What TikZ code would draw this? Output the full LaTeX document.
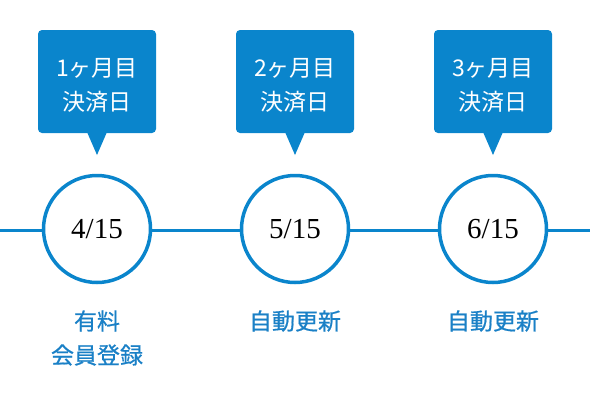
\documentclass[tikz,border=0pt]{standalone}
\usepackage{fontspec}
\setmainfont{Liberation Serif}
\newfontfamily\jp{Noto Sans CJK JP}
\newfontfamily\jpm[FakeBold=0.7]{Noto Sans CJK JP}
\definecolor{mainblue}{HTML}{0A85CC}
\definecolor{txtblue}{HTML}{1A80C6}
\begin{document}
\begin{tikzpicture}[x=1pt,y=-1pt,
  datecircle/.style={circle,draw=mainblue,line width=3.5pt,fill=white,minimum size=107pt,inner sep=0pt,font=\fontsize{29}{29}\selectfont},
  callout/.style={fill=mainblue,rounded corners=4pt},
  callouttext/.style={text=white,align=center,font=\jp\fontsize{23}{34}\selectfont},
  label/.style={text=txtblue,align=center,font=\jpm\fontsize{23}{34}\selectfont},
  conn/.style={draw=mainblue,line width=3pt}]
\useasboundingbox (0,0) rectangle (590,400);
\coordinate (L) at (0,230);
\coordinate (R) at (590,230);
\draw[conn] (L) -- (R);
\foreach \i/\x/\d/\n in {1/97/4/1,2/295/5/2,3/493/6/3}{
  \fill[callout] (\x-59,30) rectangle (\x+59,133);
  \fill[mainblue] (\x-10,132) -- (\x,155) -- (\x+10,132) -- cycle;
  \node[callouttext] (c\i) at (\x,85) {\n ヶ月目\\決済日};
  \node[datecircle] (d\i) at (\x,229) {\d/15};
}
\node[label] (t1) at (97,338) {有料\\会員登録};
\node[label] (t2) at (295,321) {自動更新};
\node[label] (t3) at (493,321) {自動更新};
\end{tikzpicture}
\end{document}
